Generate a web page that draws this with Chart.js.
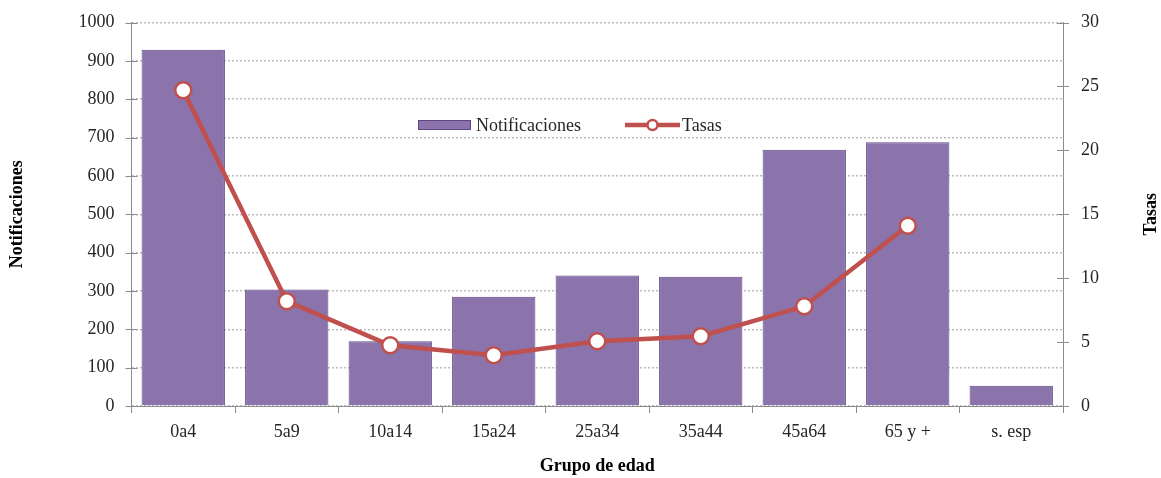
<!DOCTYPE html>
<html>
<head>
<meta charset="utf-8">
<script src="https://cdn.jsdelivr.net/npm/chart.js@4/dist/chart.umd.min.js"></script>
<style>
  html, body { margin: 0; padding: 0; background: #ffffff; }
  #wrap { width: 1161px; height: 478px; }
</style>
</head>
<body>
<div id="wrap"><canvas id="c" width="1161" height="478"></canvas></div>
<script>
const categories = ["0a4", "5a9", "10a14", "15a24", "25a34", "35a44", "45a64", "65 y +", "s. esp"];
const notificaciones = [929, 304, 169, 285, 340, 337, 668, 688, 53];
const tasas = [24.7, 8.2, 4.75, 3.97, 5.07, 5.46, 7.8, 14.1, null];
const leftTicks = [0, 100, 200, 300, 400, 500, 600, 700, 800, 900, 1000];
const rightTicks = [0, 5, 10, 15, 20, 25, 30];
const seriesLabels = ["Notificaciones", "Tasas"];
const axisTitles = { x: "Grupo de edad", y: "Notificaciones", y1: "Tasas" };

const FONT = "'Liberation Serif', 'Times New Roman', serif";
const BAR_FILL = "#8B73AB";
const BAR_EDGE = "#5F4787";
const LINE_RED = "#C0504D";
const AXIS_GRAY = "#8C8C8C";
const GRID_GRAY = "#BDBDBD";
const TEXT = "#262626";

Chart.defaults.font.family = FONT;
Chart.defaults.font.size = 18;
Chart.defaults.color = TEXT;

const crossTicks = {
  id: 'crossTicks',
  afterDraw(chart) {
    const ctx = chart.ctx;
    ctx.save();
    ctx.strokeStyle = AXIS_GRAY;
    ctx.lineWidth = 1;
    const y = chart.scales.y, y1 = chart.scales.y1;
    y.ticks.forEach(t => {
      const py = Math.round(y.getPixelForValue(t.value)) + 0.5;
      ctx.beginPath(); ctx.moveTo(y.right - 6, py); ctx.lineTo(y.right + 6, py); ctx.stroke();
    });
    y1.ticks.forEach(t => {
      const py = Math.round(y1.getPixelForValue(t.value)) + 0.5;
      ctx.beginPath(); ctx.moveTo(y1.left - 6, py); ctx.lineTo(y1.left + 6, py); ctx.stroke();
    });
    ctx.restore();
  }
};

const rightTitle = {
  id: 'rightTitle',
  afterDraw(chart) {
    const ctx = chart.ctx;
    const a = chart.chartArea;
    ctx.save();
    ctx.translate(1151, (a.top + a.bottom) / 2);
    ctx.rotate(-Math.PI / 2);
    ctx.font = "bold 18px " + FONT;
    ctx.fillStyle = "#000";
    ctx.textAlign = "center";
    ctx.textBaseline = "middle";
    ctx.fillText(axisTitles.y1, 0, 0);
    ctx.restore();
  }
};

const innerLegend = {
  id: 'innerLegend',
  afterDraw(chart) {
    const ctx = chart.ctx;
    const ds = chart.data.datasets;
    const bar = ds.find(d => d.type === 'bar');
    const line = ds.find(d => d.type === 'line');
    const cy = 125;
    ctx.save();
    ctx.font = "18px " + FONT;
    ctx.textBaseline = "middle";
    ctx.fillStyle = bar.backgroundColor;
    ctx.fillRect(418.5, cy - 4.5, 52, 9);
    ctx.strokeStyle = bar.borderColor;
    ctx.lineWidth = 1;
    ctx.strokeRect(418.5, cy - 4.5, 52, 9);
    ctx.fillStyle = TEXT;
    ctx.fillText(bar.label, 476, cy + 1);
    ctx.strokeStyle = line.borderColor;
    ctx.lineWidth = 4.5;
    ctx.beginPath(); ctx.moveTo(625, cy); ctx.lineTo(680, cy); ctx.stroke();
    ctx.beginPath(); ctx.arc(652.5, cy, 5, 0, Math.PI * 2);
    ctx.fillStyle = "#fff"; ctx.fill();
    ctx.lineWidth = 2.5; ctx.stroke();
    ctx.fillStyle = TEXT;
    ctx.fillText(line.label, 682, cy + 1);
    ctx.restore();
  }
};

new Chart(document.getElementById('c'), {
  data: {
    labels: categories,
    datasets: [
      {
        type: 'line',
        label: seriesLabels[1],
        data: tasas,
        yAxisID: 'y1',
        borderColor: LINE_RED,
        borderWidth: 4.5,
        pointRadius: 8,
        pointBorderWidth: 2.5,
        pointBackgroundColor: '#ffffff',
        pointBorderColor: LINE_RED,
        tension: 0,
        order: 0
      },
      {
        type: 'bar',
        label: seriesLabels[0],
        data: notificaciones,
        yAxisID: 'y',
        backgroundColor: BAR_FILL,
        borderColor: BAR_EDGE,
        borderWidth: 1,
        barPercentage: 0.805,
        categoryPercentage: 1.0,
        order: 1
      }
    ]
  },
  options: {
    responsive: false,
    animation: false,
    devicePixelRatio: 1,
    layout: { padding: { top: 22.5, left: 0, right: 0, bottom: 0 } },
    plugins: {
      legend: { display: false },
      tooltip: { enabled: false }
    },
    scales: {
      x: {
        offset: true,
        grid: { display: true, offset: true, drawOnChartArea: false, drawTicks: true, tickLength: 7, color: AXIS_GRAY },
        border: { display: true, color: AXIS_GRAY, width: 1 },
        ticks: { padding: 8, color: TEXT, font: { size: 18 }, maxRotation: 0 },
        title: { display: true, text: axisTitles.x, color: '#000', font: { size: 18, weight: 'bold' }, padding: { top: 0, bottom: 1 } },
        afterFit(s) { s.height = 72; }
      },
      y: {
        position: 'left',
        min: 0, max: 1000,
        afterBuildTicks(s) { s.ticks = leftTicks.map(v => ({ value: v })); },
        grid: { color: GRID_GRAY, lineWidth: 1.5, drawTicks: true, tickLength: 14, tickColor: 'rgba(0,0,0,0)' },
        border: { display: true, color: AXIS_GRAY, width: 1, dash: [2, 2] },
        ticks: { padding: 3, color: TEXT, font: { size: 18 }, callback: v => String(v) },
        title: { display: true, text: axisTitles.y, color: '#000', font: { size: 18, weight: 'bold' }, padding: { top: 7, bottom: 0 } },
        afterFit(s) { s.width = 131.5; }
      },
      y1: {
        position: 'right',
        min: 0, max: 30,
        afterBuildTicks(s) { s.ticks = rightTicks.map(v => ({ value: v })); },
        grid: { display: true, drawOnChartArea: false, drawTicks: true, tickLength: 15, tickColor: 'rgba(0,0,0,0)' },
        border: { display: true, color: AXIS_GRAY, width: 1 },
        ticks: { padding: 3, color: TEXT, font: { size: 18 }, callback: v => String(v) },
        title: { display: false },
        afterFit(s) { s.width = 98; }
      }
    }
  },
  plugins: [crossTicks, rightTitle, innerLegend]
});
</script>
</body>
</html>
